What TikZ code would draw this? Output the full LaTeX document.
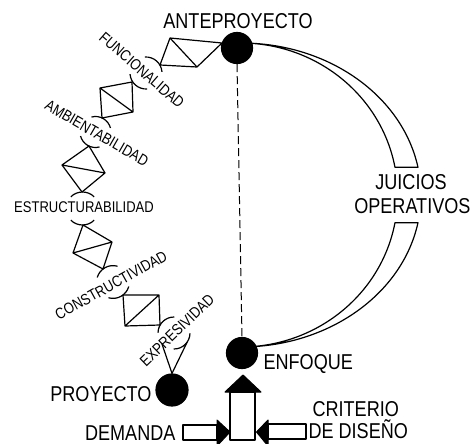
\documentclass[tikz,border=0pt]{standalone}
\usepackage{fontspec}
\setmainfont{Liberation Sans}[FakeStretch=0.84]
\begin{document}
\begin{tikzpicture}[x=1pt,y=-1pt,
  line width=1.2pt, line join=round,
  big/.style={font=\fontsize{21.5}{25}\selectfont, inner sep=0pt},
  small/.style={font=\fontsize{15.5}{18}\selectfont, inner sep=0pt,
    text height=11.1pt, text depth=0pt},
  dot/.style={circle, fill=black, draw=black, minimum size=31pt, inner sep=0pt},
  band/.style={line width=1.2pt},
  head/.style={fill=black, draw=black, line width=1pt},
  shaft/.style={line width=1.2pt},
]
\useasboundingbox (0,0) rectangle (472,444);
\clip (0,0) rectangle (472,444);

% crescent band of the operative judgements
\coordinate (O) at (241,195);
\draw[band] (O) ++(-90:180 and 152)
  arc[start angle=-90, end angle=-10.5, x radius=180, y radius=152]
  -- ++(-23,0)
  arc[start angle=-10.5, end angle=-90, x radius=157, y radius=152] -- cycle;
\draw[band] (O) ++(90:180 and 152)
  arc[start angle=90, end angle=10.5, x radius=180, y radius=152]
  -- ++(-23,0)
  arc[start angle=10.5, end angle=90, x radius=157, y radius=152] -- cycle;

% main states
\node[dot] (ante) at (237,48) {};
\node[dot] (enf) at (242,353) {};
\node[dot, minimum size=32pt] (proy) at (172,390) {};

\draw[dash pattern=on 8pt off 4pt, line width=1pt] (ante.south) -- (enf.north);

% chain of quadrilateral links
\coordinate (q1t) at (170,38);  \coordinate (q1r) at (222,43);
\coordinate (q1b) at (197,67);  \coordinate (q1l) at (160,65);
\draw (q1t) -- (q1r) -- (q1b) -- (q1l) -- cycle (q1t) -- (q1b);

\coordinate (q2a) at (100,88);  \coordinate (q2b) at (132,82);
\coordinate (q2c) at (133,112); \coordinate (q2d) at (102,118);
\draw (q2a) -- (q2b) -- (q2c) -- (q2d) -- cycle (q2a) -- (q2c);

\coordinate (q3t) at (89,146);  \coordinate (q3r) at (105,173);
\coordinate (q3b) at (82,192);  \coordinate (q3l) at (62,165);
\draw (q3t) -- (q3r) -- (q3b) -- (q3l) -- cycle (q3l) -- (q3r);

\coordinate (q4t) at (83,225);  \coordinate (q4r) at (112,242);
\coordinate (q4b) at (103,269); \coordinate (q4l) at (73,253);
\draw (q4t) -- (q4r) -- (q4b) -- (q4l) -- cycle (q4l) -- (q4r);

\coordinate (q5a) at (123,295); \coordinate (q5b) at (159,295);
\coordinate (q5c) at (160,325); \coordinate (q5d) at (125,326);
\draw (q5a) -- (q5b) -- (q5c) -- (q5d) -- cycle (q5d) -- (q5b);

% joints: two facing arcs of a small circle, open where the label crosses
\coordinate (j1) at (146,73);
\coordinate (j2) at (95.5,132);
\coordinate (j3) at (82.5,208.5);
\coordinate (j4) at (113,282);
\coordinate (j5) at (174,333);
\draw (j1) ++(-94:16) arc[start angle=-94, end angle=-4, radius=16];
\draw (j1) ++(86:16) arc[start angle=86, end angle=176, radius=16];
\draw (j2) ++(-105:15.5) arc[start angle=-105, end angle=-15, radius=15.5];
\draw (j2) ++(75:15.5) arc[start angle=75, end angle=165, radius=15.5];
\draw (j3) ++(-135:16.5) arc[start angle=-135, end angle=-45, radius=16.5];
\draw (j3) ++(45:16.5) arc[start angle=45, end angle=135, radius=16.5];
\draw (j4) ++(-164:16.4) arc[start angle=-164, end angle=-74, radius=16.4];
\draw (j4) ++(16:16.4) arc[start angle=16, end angle=106, radius=16.4];
\draw (j5) ++(-179:16) arc[start angle=-179, end angle=-89, radius=16];
\draw (j5) ++(1:16) arc[start angle=1, end angle=91, radius=16];

% last link down to the project
\path (j5) ++(35:16) coordinate (v5r);
\path (j5) ++(140:16) coordinate (v5l);
\draw (v5l) -- (proy.north) -- (v5r);

% link labels
\node[small, rotate=-41] (l1) at (142,70) {FUNCIONALIDAD};
\node[small, rotate=-30] (l2) at (97,133) {AMBIENTABILIDAD};
\node[small] (l3) at (84,207) {ESTRUCTURABILIDAD};
\node[small, rotate=29] (l4) at (111,285) {CONSTRUCTIVIDAD};
\node[small, rotate=44] (l5) at (177,330) {EXPRESIVIDAD};

% input arrows
\draw[shaft] (230,392) rectangle (255,440);
\draw[head] (225,392) -- (261,392) -- (243,375) -- cycle;
\draw[shaft] (183,425) rectangle (217,440);
\draw[head] (217,420) -- (217,446) -- (230,432) -- cycle;
\draw[shaft] (268,424) rectangle (306,439);
\draw[head] (268,420) -- (268,446) -- (256.5,432) -- cycle;

% state labels
\node[big, anchor=base] (tA) at (238,28.5) {ANTEPROYECTO};
\node[big, anchor=base] (tJ) at (411,189.5) {JUICIOS};
\node[big, anchor=base east] (tO) at (471,213) {OPERATIVOS};
\node[big, anchor=base west] (tE) at (263,369) {ENFOQUE};
\node[big, anchor=base east] (tP) at (152,401.5) {PROYECTO};
\node[big, anchor=base east] (tD) at (176,440.5) {DEMANDA};
\node[big, anchor=base west] (tC) at (312,416) {CRITERIO};
\node[big, anchor=base west] (tDD) at (308,438) {DE DISEÑO};
\end{tikzpicture}
\end{document}
